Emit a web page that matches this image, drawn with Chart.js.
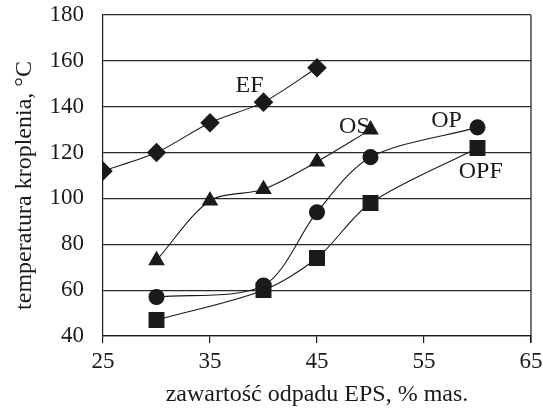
<!DOCTYPE html>
<html>
<head>
<meta charset="utf-8">
<script src="https://cdn.jsdelivr.net/npm/chart.js@4"></script>
<style>
  html, body { margin: 0; padding: 0; background: #fff; }
  #wrap { width: 543px; height: 412px; }
</style>
</head>
<body>
<div id="wrap"><canvas id="chart"></canvas></div>
<script>
// zawartość odpadu EPS [% mas.] vs temperatura kroplenia [°C]
const xEF = [25, 30, 35, 40, 45];
const tEF = [112, 120, 133, 142, 157];

const xOS = [30, 35, 40, 45, 50];
const tOS = [73, 99, 104, 116, 130];

const xOP = [30, 40, 45, 50, 60];
const tOP = [57, 62, 94, 118, 131];

const xOPF = [30, 40, 45, 50, 60];
const tOPF = [47, 60, 74, 98, 122];

const xTicks = [25, 35, 45, 55, 65];
const yTicks = [40, 60, 80, 100, 120, 140, 160, 180];

// series names written next to the curves (anchor in data units)
const seriesNames = ['EF', 'OS', 'OP', 'OPF'];
const nameAt = [[38.7, 149], [48.5, 131.5], [57.1, 134], [60.3, 111.5]];

const yTitle = 'temperatura kroplenia, °C';

const ink = '#1a1a1a';
const serif = '"Liberation Serif", "Times New Roman", serif';

function pts(xs, ys) {
    return xs.map((x, i) => ({ x: x, y: ys[i] }));
}

function series(label, xs, ys, style, radius) {
    return {
        label: label,
        data: pts(xs, ys),
        borderColor: ink,
        borderWidth: 1.1,
        backgroundColor: ink,
        pointBackgroundColor: ink,
        pointBorderColor: ink,
        pointStyle: style,
        pointRadius: radius,
        tension: 0.3,
        fill: false
    };
}

// right side of the frame, the y title and the names of the curves
const extras = {
    id: 'extras',
    afterDraw(chart) {
        const ctx = chart.ctx;
        const a = chart.chartArea;
        const xs = chart.scales.x, ys = chart.scales.y;
        ctx.save();
        ctx.strokeStyle = ink;
        ctx.lineWidth = 1.2;
        ctx.beginPath();
        ctx.moveTo(a.right, a.top);
        ctx.lineTo(a.right, a.bottom + 7);
        ctx.stroke();

        ctx.fillStyle = ink;
        ctx.textAlign = 'center';
        ctx.textBaseline = 'middle';

        ctx.save();
        ctx.font = '24px ' + serif;
        ctx.translate(25, (a.top + a.bottom) / 2 + 10);
        ctx.rotate(-Math.PI / 2);
        ctx.fillText(yTitle, 0, 0);
        ctx.restore();

        ctx.font = '24px ' + serif;
        seriesNames.forEach((n, i) => {
            ctx.fillText(n, xs.getPixelForValue(nameAt[i][0]), ys.getPixelForValue(nameAt[i][1]));
        });
        ctx.restore();
    }
};

window.onload = () => {
    const ctx = document.getElementById('chart').getContext('2d');
    new Chart(ctx, {
        type: 'line',
        data: {
            datasets: [
                series('EF', xEF, tEF, 'rectRot', 9),
                series('OS', xOS, tOS, 'triangle', 8.5),
                series('OP', xOP, tOP, 'circle', 7.5),
                series('OPF', xOPF, tOPF, 'rect', 10.5)
            ]
        },
        options: {
            responsive: true,
            maintainAspectRatio: false,
            animation: false,
            layout: { padding: { top: 15, right: 12, left: 0, bottom: 0 } },
            plugins: {
                legend: { display: false },
                tooltip: { enabled: false }
            },
            scales: {
                x: {
                    type: 'linear',
                    min: 25,
                    max: 65,
                    afterBuildTicks: s => { s.ticks = xTicks.map(v => ({ value: v })); },
                    afterFit: s => { s.height = 76; s.paddingLeft = 0; s.paddingRight = 0; },
                    grid: {
                        drawOnChartArea: false,
                        drawTicks: true,
                        tickLength: 7,
                        color: ink,
                        lineWidth: 1.2
                    },
                    border: { display: true, color: ink, width: 1.2 },
                    ticks: {
                        color: ink,
                        font: { family: serif, size: 23 },
                        padding: 5,
                        maxRotation: 0
                    },
                    title: {
                        display: true,
                        text: 'zawartość odpadu EPS, % mas.',
                        color: ink,
                        font: { family: serif, size: 24 },
                        padding: { top: 0, bottom: 3 }
                    }
                },
                y: {
                    min: 40,
                    max: 180,
                    afterBuildTicks: s => { s.ticks = yTicks.map(v => ({ value: v })); },
                    afterFit: s => { s.width = 103; s.paddingTop = 0; s.paddingBottom = 0; },
                    grid: {
                        drawTicks: false,
                        color: '#2a2a2a',
                        lineWidth: 1.2
                    },
                    border: { display: true, color: ink, width: 1.2 },
                    ticks: {
                        color: ink,
                        font: { family: serif, size: 23 },
                        padding: 19
                    }
                }
            }
        },
        plugins: [extras]
    });
};
</script>
</body>
</html>
